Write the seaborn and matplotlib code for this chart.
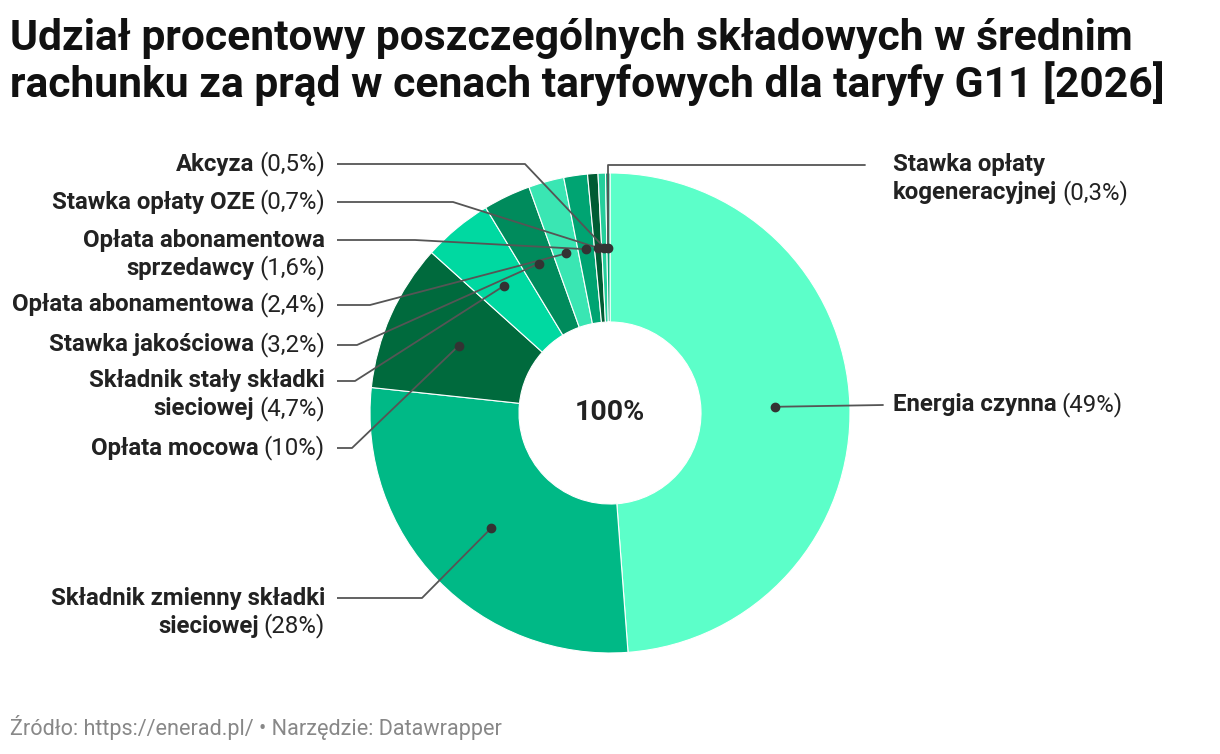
import numpy as np
import matplotlib
matplotlib.use("Agg")
import matplotlib.pyplot as plt
import seaborn as sns

# ==========================================
# Data
# ==========================================

names = [
    "Energia czynna",
    "Składnik zmienny składki\nsieciowej",
    "Opłata mocowa",
    "Składnik stały składki\nsieciowej",
    "Stawka jakościowa",
    "Opłata abonamentowa",
    "Opłata abonamentowa\nsprzedawcy",
    "Stawka opłaty OZE",
    "Akcyza",
    "Stawka opłaty\nkogeneracyjnej",
]
shares = [49, 28, 10, 4.7, 3.2, 2.4, 1.6, 0.7, 0.5, 0.3]
share_labels = ["49%", "28%", "10%", "4,7%", "3,2%", "2,4%", "1,6%", "0,7%", "0,5%", "0,3%"]
colors = ["#5cffc9", "#00b986", "#006a3d", "#00d9a1", "#008b5c",
          "#3ae6b3", "#00a472", "#005c33", "#25cf9c", "#00a372"]

# label layout in pixels: (side, label x, first line y, elbow x)
label_pos = [
    ("right", 893, 405, None),
    ("left", 325, 598, 422),
    ("left", 325, 448, 352),
    ("left", 325, 381, 355),
    ("left", 325, 345, 357),
    ("left", 325, 305, 370),
    ("left", 325, 240, 415),
    ("left", 325, 202, 453),
    ("left", 325, 164, 525),
    ("right", 893, 165, "up"),
]

# ==========================================
# Figure
# ==========================================

sns.set_theme(style="white")
plt.rcParams["font.family"] = ["Roboto", "DejaVu Sans"]

W, H = 1220, 754
CX, CY, R = 610, 413, 240
HOLE = 91

fig = plt.figure(figsize=(W / 100, H / 100), dpi=100)
ax = fig.add_axes([0, 0, 1, 1])

ax.pie(
    shares,
    colors=colors,
    startangle=90,
    counterclock=False,
    radius=1,
    wedgeprops=dict(width=1 - HOLE / R, edgecolor="white", linewidth=0.8),
)
ax.set_xlim(-CX / R, (W - CX) / R)
ax.set_ylim((CY - H) / R, CY / R)
ax.set_aspect("equal")
ax.axis("off")


def px(x, y):
    return (x - CX) / R, (CY - y) / R


ax.text(0, 0, "100%", ha="center", va="center", fontsize=20.5,
        fontweight="bold", color="#222222")

# ==========================================
# Labels and leader lines
# ==========================================

renderer = fig.canvas.get_renderer()
fs = 17.3
line_h = 28
line_col = "#555555"
text_col = "#222222"

total = sum(shares)
start = 90.0
mid_r = (1 + HOLE / R) / 2
for name, val, pct, col, pos in zip(names, shares, share_labels, colors, label_pos):
    ang = np.deg2rad(start - 360 * val / total / 2)
    start -= 360 * val / total
    dx, dy = mid_r * np.cos(ang), mid_r * np.sin(ang)

    side, lx, ly, elbow = pos
    lines = name.split("\n")

    for i, part in enumerate(lines):
        y = ly + i * line_h
        last = i == len(lines) - 1
        if side == "left":
            if last:
                t = ax.text(*px(lx, y), f"({pct})", ha="right", va="center",
                            fontsize=fs, color=text_col)
                w = t.get_window_extent(renderer).width
                ax.text(*px(lx - w - 5, y), part, ha="right", va="center",
                        fontsize=fs, fontweight="bold", color=text_col)
            else:
                ax.text(*px(lx, y), part, ha="right", va="center",
                        fontsize=fs, fontweight="bold", color=text_col)
        else:
            t = ax.text(*px(lx, y), part, ha="left", va="center",
                        fontsize=fs, fontweight="bold", color=text_col)
            if last:
                w = t.get_window_extent(renderer).width
                ax.text(*px(lx + w + 5, y), f"({pct})", ha="left", va="center",
                        fontsize=fs, color=text_col)

    # leader line
    if side == "left":
        x0, y0 = px(lx + 12, ly)
        ex, ey = px(elbow, ly)
        ax.plot([x0, ex, dx], [y0, ey, dy], color=line_col, lw=1.3,
                solid_capstyle="butt", zorder=3)
    elif elbow == "up":
        ex, ey = px(0, ly)
        x1, _ = px(lx - 28, ly)
        ax.plot([dx, dx, x1], [dy, ey, ey], color=line_col, lw=1.3, zorder=3)
    else:
        x1, y1 = px(lx - 10, ly)
        ax.plot([dx, x1], [dy, y1], color=line_col, lw=1.3, zorder=3)
    ax.plot(dx, dy, "o", color="#333333", ms=6, zorder=4)

# ==========================================
# Title and footer
# ==========================================

title_lines = [
    "Udział procentowy poszczególnych składowych w średnim",
    "rachunku za prąd w cenach taryfowych dla taryfy G11 [2026]",
]
for i, tl in enumerate(title_lines):
    fig.text(10 / W, 1 - (50 + 47 * i) / H, tl, ha="left", va="baseline",
             fontsize=30.7, fontweight="bold", color="#111111")
fig.text(10 / W, 1 - 727 / H,
         "Źródło: https://enerad.pl/ • Narzędzie: Datawrapper",
         ha="left", va="center", fontsize=15.6, color="#888888")

fig.savefig("out.png", dpi=100, facecolor="white")
